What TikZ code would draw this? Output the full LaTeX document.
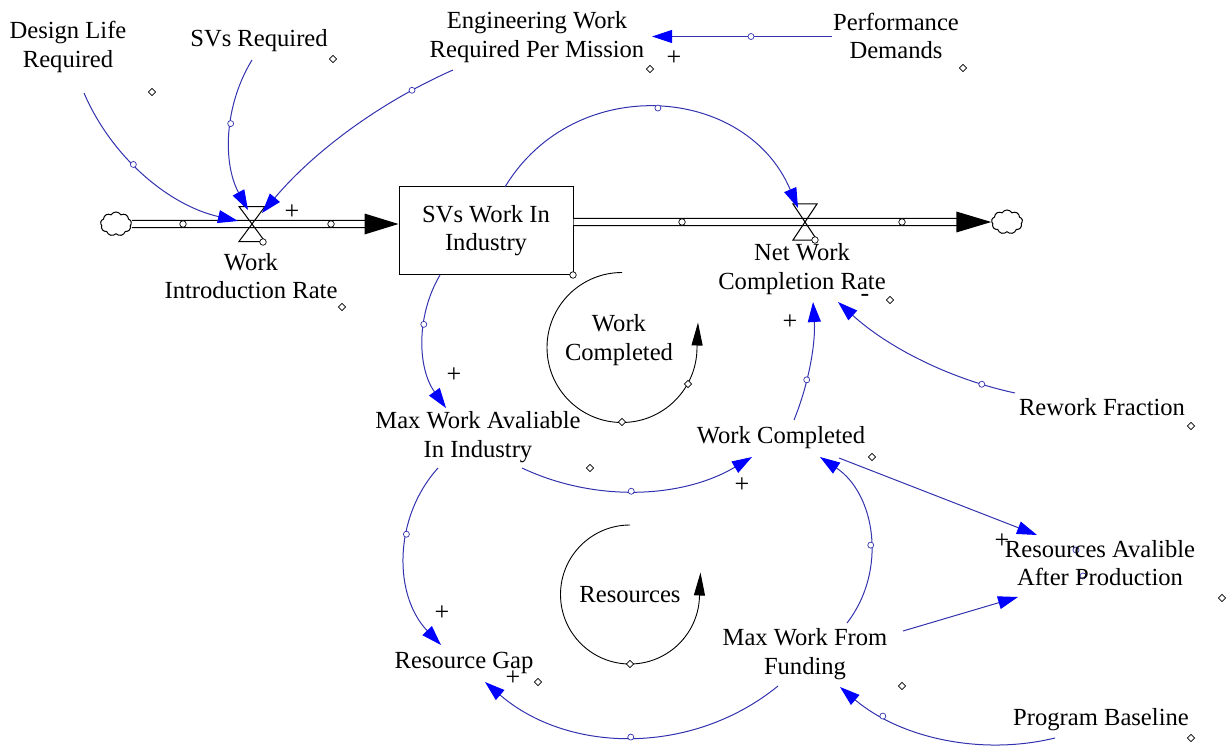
\documentclass[tikz,border=0pt]{standalone}
\usepackage{fontspec}
\setmainfont{Liberation Serif}
\usetikzlibrary{arrows.meta,calc,shapes.geometric,shapes.symbols}
\definecolor{lnk}{RGB}{50,50,175}
\definecolor{hdc}{RGB}{0,0,255}
\begin{document}
\begin{tikzpicture}[x=1pt,y=-1pt,
 var/.style={font=\fontsize{24.6}{28.5}\selectfont, align=center, inner sep=0pt},
 link/.style={draw=lnk, line width=1pt, -{Triangle[length=20pt,width=13pt,color=hdc]}},
 pipe/.style={draw=black, line width=1.4pt, double=white, double distance=5.6pt},
 loopar/.style={draw=black, line width=0.9pt, -{Triangle[length=23pt,width=11pt]}},
 hnd/.style={circle, draw=lnk, fill=white, inner sep=0pt, minimum size=6pt, line width=0.7pt},
 vh/.style={circle, draw=black, fill=white, inner sep=0pt, minimum size=6.5pt, line width=0.7pt},
 lh/.style={diamond, draw=black, fill=white, inner sep=0pt, minimum size=7.5pt, line width=0.7pt},
 sgn/.style={font=\fontsize{26}{26}\selectfont, inner sep=0pt},
 valveshape/.style={draw=black, line width=1pt},
 cloudshape/.style={cloud, cloud puffs=9, cloud puff arc=120, draw=black, line width=1pt, minimum width=31pt, minimum height=24pt, inner sep=0pt}
]
\useasboundingbox (0,0) rectangle (1228,746);

% handles lying under text (drawn first)
\node[hnd] (hx1) at (1076,550) {};
\node[hnd] (hx2) at (1083,576) {};

% variables
\node[var] (dlr) at (68,47) {Design Life\\Required};
\node[var] (svr) at (259,41) {SVs Required};
\node[var] (ewr) at (537,37) {Engineering Work\\Required Per Mission};
\node[var] (pd) at (896,36) {Performance\\Demands};
\coordinate (wirv) at (252,224);
\node[var] (wir) at (251,276) {Work\\Introduction Rate};
\node[var, draw, line width=1pt, minimum width=174pt, minimum height=87pt] (swi) at (486,230.5) {SVs Work In\\Industry};
\coordinate (nwcrv) at (805,222);
\node[var] (nwcr) at (802,269) {Net Work\\Completion Rate};
\node[var] (lwc) at (619,340) {Work\\Completed};
\node[var] (mwa) at (478,437) {Max Work Avaliable\\In Industry};
\node[var] (wc) at (781,438) {Work Completed};
\node[var] (rf) at (1102,407) {Rework Fraction};
\node[var] (raap) at (1100,563) {Resources Avalible\\After Production};
\node[var] (lrs) at (630,595) {Resources};
\node[var] (mwf) at (805,654) {Max Work From\\Funding};
\node[var] (rg) at (464,663) {Resource Gap};
\node[var] (pb) at (1101,720) {Program Baseline};
\node[cloudshape] (cldL) at (116,224) {};
\node[cloudshape] (cldR) at (1007,222) {};

% flows
\coordinate (inTip) at ($(swi.west)+(0,-6.5)$);
\draw[pipe] (cldL.east) -- ($(inTip)+(-33,0)$);
\fill[black] (inTip) -- ++(-34,-10.5) -- ++(0,21) -- cycle;
\coordinate (outSt) at ($(swi.east)+(0,-8.5)$);
\draw[pipe] (outSt) -- ($(cldR.west)+(-34,0)$);
\fill[black] (cldR.west) -- ++(-35,-10.5) -- ++(0,21) -- cycle;
\node[vh] (ph1) at (183,224) {};
\node[vh] (ph2) at (331,224) {};
\node[vh] (ph3) at (682,222) {};
\node[vh] (ph4) at (902,222) {};

% valves
\draw[valveshape] ($(wirv)+(-13,-17.5)$) -- ($(wirv)+(13,-17.5)$) -- ($(wirv)+(-13,17.5)$) -- ($(wirv)+(13,17.5)$) -- cycle;
\draw[valveshape] ($(nwcrv)+(-12,-18)$) -- ($(nwcrv)+(12,-18)$) -- ($(nwcrv)+(-12,18)$) -- ($(nwcrv)+(12,18)$) -- cycle;
\node[vh] (vh1) at ($(wirv)+(11,18)$) {};
\node[vh] (vh2) at ($(nwcrv)+(10,18)$) {};

% links
\draw[link] ($(dlr)+(16,46)$) to[bend right=27, looseness=.9] node[hnd, pos=.42] (h1) {} ($(wirv)+(-14,-3)$);
\draw[link] ($(svr)+(-7,19)$) to[bend right=30, looseness=.91] node[hnd, pos=.43] (h2) {} ($(wirv)+(-4,-14)$);
\draw[link] ($(ewr)+(-84,33)$) to[bend right=13, looseness=.86] node[hnd, pos=.19] (h3) {} ($(wirv)+(10,-11)$);
\draw[link] ($(pd)+(-64,0.5)$) -- node[hnd, pos=.45] (h4) {} ($(ewr)+(115,-0.5)$);
\draw[link] ($(swi)+(19,-43.5)$) to[bend left=63, looseness=1.17] node[hnd, pos=.5] (h5) {} ($(nwcrv)+(-7,-14)$);
\draw[link] ($(swi)+(-46,44.5)$) to[bend right=33, looseness=.93] node[hnd, pos=.37] (h6) {} ($(mwa)+(-32,-29)$);
\draw[link] ($(mwa)+(44,31)$) to[bend right=28, looseness=.9] node[hnd, pos=.47] (h7) {} ($(wc)+(-29,19)$);
\draw[link] ($(wc)+(13,-18)$) to[bend right=13, looseness=.86] node[hnd, pos=.35] (h8) {} ($(nwcr)+(11,33)$);
\draw[link] ($(rf)+(-87,-14)$) to[bend left=15, looseness=.87] node[hnd, pos=.17] (h9) {} ($(nwcr)+(36,33)$);
\draw[link] ($(wc)+(58,20)$) -- ($(raap)+(-63,-28)$);
\draw[link] ($(mwf)+(42,-31)$) to[bend right=47, looseness=1.01] node[hnd, pos=.44] (h11) {} ($(wc)+(39,19)$);
\draw[link] ($(mwf)+(98,-23)$) -- ($(raap)+(-82,34)$);
\draw[link] ($(mwa)+(-40,31)$) to[bend right=43, looseness=.98] node[hnd, pos=.38] (h13) {} ($(rg)+(-23,-18)$);
\draw[link] ($(mwf)+(-27,32)$) to[bend left=40, looseness=.96] node[hnd, pos=.5] (h14) {} ($(rg)+(21,19)$);
\draw[link] ($(pb)+(-46,18)$) to[bend left=27, looseness=.9] node[hnd, pos=.775] (h15) {} ($(mwf)+(35,33)$);

% loops
\draw[loopar] (622,272.5) arc[start angle=90, end angle=360, radius=75pt] -- ++(1,-25);
\draw[loopar] (630,525) arc[start angle=90, end angle=360, radius=69.5pt] -- ++(1,-22);
\node[lh] (lh1) at (622,422) {};
\node[lh] (lh2) at (688,384) {};
\node[lh] (lh3) at (630,664) {};

% label handles
\node[lh] (d1) at (152,92) {};
\node[lh] (d2) at (333,59) {};
\node[lh] (d3) at (650,69) {};
\node[lh] (d4) at (963,68) {};
\node[lh] (d5) at (342,307) {};
\node[vh] (d6) at (573,275) {};
\node[lh] (d7) at (890,300) {};
\node[lh] (d8) at (1191,426) {};
\node[lh] (d9) at (590,468) {};
\node[lh] (d10) at (872,457) {};
\node[lh] (d11) at (1222,598) {};
\node[lh] (d12) at (538,682) {};
\node[lh] (d13) at (902,686) {};
\node[lh] (d14) at (1191,738) {};

% polarities
\node[sgn] (s1) at (292,212) {+};
\node[sgn] (s2) at (674,58) {+};
\node[sgn] (s3) at (454,375) {+};
\node[sgn] (s4) at (742,485) {+};
\node[sgn] (s5) at (790,322) {+};
\node[sgn] (s6) at (1002,541) {+};
\node[sgn] (s7) at (442,613) {+};
\node[sgn] (s8) at (513,678) {+};
\node[sgn] (s9) at (865,298) {-};
\end{tikzpicture}
\end{document}
